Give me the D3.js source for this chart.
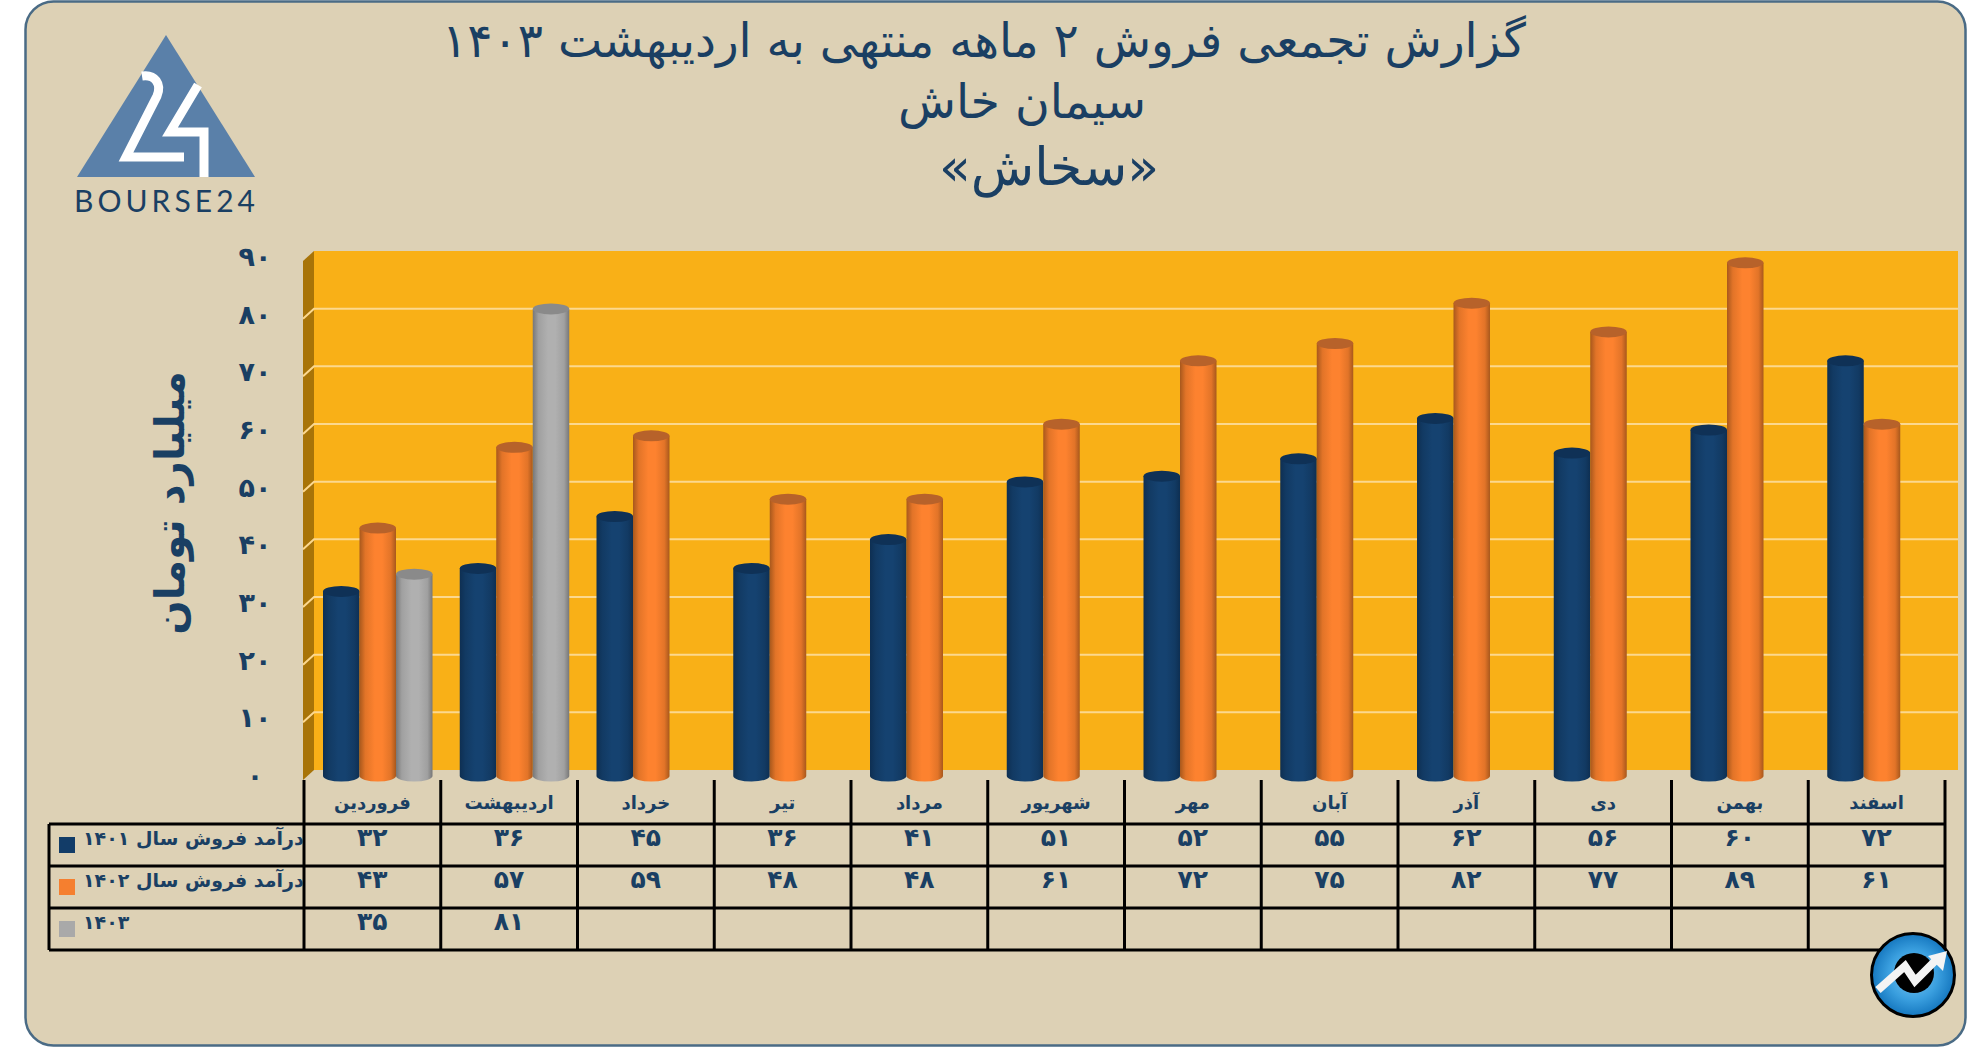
<!DOCTYPE html>
<html lang="fa"><head><meta charset="utf-8">
<script src="https://cdn.jsdelivr.net/npm/d3@7"></script>
<style>html,body{margin:0;padding:0;background:#fff}svg{display:block}</style></head>
<body><svg id="c" width="1986" height="1047"></svg>
<script>
const months=["فروردین","اردیبهشت","خرداد","تیر","مرداد","شهریور","مهر","آبان","آذر","دی","بهمن","اسفند"];
const seriesNames=["درآمد فروش سال ۱۴۰۱","درآمد فروش سال ۱۴۰۲","۱۴۰۳"];
const sales1401=[32,36,45,36,41,51,52,55,62,56,60,72];
const sales1402=[43,57,59,48,48,61,72,75,82,77,89,61];
const sales1403=[35,81,null,null,null,null,null,null,null,null,null,null];
const yTicks=[0,10,20,30,40,50,60,70,80,90];
const titleLines=["گزارش تجمعی فروش ۲ ماهه منتهی به اردیبهشت ۱۴۰۳","سیمان خاش","«سخاش»"];
const yTitle="میلیارد تومان";
const seriesValues=[sales1401,sales1402,sales1403];
const swatch=["#123c68","#f57f2f","#a9a9a9"];
const palette=[
 {edge:"#0e2f52",soft:"#123a63",mid:"#154270",top:"#0f3156"},
 {edge:"#a8581c",soft:"#e27428",mid:"#fd822f",top:"#b7622a"},
 {edge:"#777777",soft:"#a0a0a0",mid:"#b0b0b0",top:"#8a8a8a"}];
const ink="#1a3f63", FONT="'DejaVu Sans'";
const fa=n=>String(n).replace(/\d/g,d=>"۰۱۲۳۴۵۶۷۸۹"[d]);

const svg=d3.select("#c");
const defs=svg.append("defs");
palette.forEach((p,i)=>{
  const g=defs.append("linearGradient").attr("id","cyl"+i);
  [[0,p.edge],[.16,p.soft],[.42,p.mid],[.62,p.mid],[.86,p.soft],[1,p.edge]].forEach(s=>g.append("stop").attr("offset",s[0]).attr("stop-color",s[1]));
});
const rg=defs.append("radialGradient").attr("id","ball");
[[0,"#7cc8f2"],[.6,"#3a9fdf"],[1,"#1577bf"]].forEach(s=>rg.append("stop").attr("offset",s[0]).attr("stop-color",s[1]));

// panel
svg.append("rect").attr("x",25.5).attr("y",1.5).attr("width",1940).attr("height",1044).attr("rx",28)
  .attr("fill","#ddd1b5").attr("stroke","#4a6b85").attr("stroke-width",2.5);

const colX=d3.scaleBand().domain(months).range([304,1945]);
const barX=d3.scaleBand().domain([0,1,2]).range([19,128.5]);
const y=d3.scaleLinear().domain([0,90]).range([770,251]);
const wallL=314,wallR=1958,sideL=303,dz=10,dy=6;

// walls
svg.append("rect").attr("x",wallL).attr("y",y(90)).attr("width",wallR-wallL).attr("height",y(0)-y(90)).attr("fill","#f9b017");
svg.append("path").attr("d",`M${sideL},${y(90)+dz} L${wallL},${y(90)} V${y(0)} L${sideL},${y(0)+dz}Z`).attr("fill","#a87408");
svg.append("g").selectAll("path").data(yTicks.filter(t=>t>0&&t<90)).join("path")
  .attr("d",t=>`M${sideL},${y(t)+dz} L${wallL},${y(t)} H${wallR}`)
  .attr("fill","none").attr("stroke","#fcd88f").attr("stroke-width",2);

// y axis
const ax=svg.append("g").attr("transform",`translate(255,${dy})`)
  .call(d3.axisLeft(y).tickValues(yTicks).tickSize(0).tickPadding(0).tickFormat(fa));
ax.select(".domain").remove();
ax.selectAll("text").attr("text-anchor","middle").attr("x",0).attr("fill",ink)
  .style("font",`bold 27px ${FONT}`);

// cylinders
const ry=5.5;
seriesValues.forEach((vals,s)=>{
  const g=svg.append("g");
  const pts=vals.map((v,i)=>({v,m:months[i]})).filter(d=>d.v!=null);
  const w=barX.bandwidth();
  g.selectAll("path").data(pts).join("path")
    .attr("d",d=>{const x=colX(d.m)+barX(s),t=y(d.v)+dy,b=y(0)+dy;
      return `M${x},${t} V${b} A${w/2},${ry} 0 0 0 ${x+w},${b} V${t} Z`;})
    .attr("fill",`url(#cyl${s})`);
  g.selectAll("ellipse").data(pts).join("ellipse")
    .attr("cx",d=>colX(d.m)+barX(s)+w/2).attr("cy",d=>y(d.v)+dy).attr("rx",w/2).attr("ry",ry)
    .attr("fill",palette[s].top);
});

// table
const rowY=d3.scalePoint().domain([0,1,2,3]).range([824,950]);
const tbl=svg.append("g").attr("stroke","#000").attr("stroke-width",3);
rowY.domain().forEach(r=>tbl.append("line").attr("x1",49).attr("x2",1945).attr("y1",rowY(r)).attr("y2",rowY(r)));
tbl.append("line").attr("x1",49).attr("x2",49).attr("y1",824).attr("y2",950);
tbl.selectAll("line.v").data(months.map(m=>colX(m)).concat(1945)).join("line").attr("class","v")
  .attr("x1",d=>d).attr("x2",d=>d).attr("y1",780).attr("y2",950);

const tx=svg.append("g").attr("fill",ink).attr("text-anchor","middle").style("font",`bold 18px ${FONT}`);
tx.selectAll("text.m").data(months).join("text").attr("class","m")
  .attr("x",m=>colX(m)+colX.bandwidth()/2).attr("y",804).attr("dominant-baseline","middle").text(m=>m);
seriesValues.forEach((vals,s)=>{
  tx.append("g").selectAll("text").data(vals.map((v,i)=>({v,m:months[i]})).filter(d=>d.v!=null)).join("text")
    .attr("x",d=>colX(d.m)+colX.bandwidth()/2).attr("y",rowY(s)+15).attr("dominant-baseline","middle")
    .style("font",`bold 25px ${FONT}`).text(d=>fa(d.v));
  svg.append("rect").attr("x",59).attr("y",rowY(s)+13).attr("width",16).attr("height",16).attr("fill",swatch[s]);
  svg.append("text").attr("x",83).attr("y",rowY(s)+15).attr("dominant-baseline","middle").attr("text-anchor","end")
    .attr("fill",ink).style("font",`bold 19px ${FONT}`).style("direction","rtl")
    .text(seriesNames[s]);
});

// titles
const ts=[[44,47,984],[105,47.5,1022],[171,52,1049]];
svg.append("g").attr("fill",ink).attr("text-anchor","middle").selectAll("text").data(titleLines).join("text")
  .attr("x",(d,i)=>ts[i][2]).attr("y",(d,i)=>ts[i][0]).attr("dominant-baseline","middle")
  .style("font",(d,i)=>`${ts[i][1]}px ${FONT}`).text(d=>d);

svg.append("text").attr("transform","translate(173,503) rotate(-90)").attr("text-anchor","middle").attr("dominant-baseline","middle")
  .attr("fill",ink).style("font",`bold 40.5px ${FONT}`).text(yTitle);

// logo
const logo=svg.append("g");
logo.append("path").attr("d","M166,35 L77,177 H255Z").attr("fill","#5a80a9");
logo.append("path").attr("d","M142,76 C155,74 162,84 157,96 L126,157 H184").attr("fill","none").attr("stroke","#fff").attr("stroke-width",9);
logo.append("path").attr("d","M198,85 L170,132 H204 V177").attr("fill","none").attr("stroke","#fff").attr("stroke-width",9);
logo.append("text").attr("x",74).attr("y",212).attr("textLength",181).attr("lengthAdjust","spacing")
  .attr("fill",ink).style("font","30px Lato").text("BOURSE24");

// corner badge
const b=svg.append("g");
b.append("circle").attr("cx",1913).attr("cy",975).attr("r",41.5).attr("fill","url(#ball)").attr("stroke","#000").attr("stroke-width",3);
b.append("circle").attr("cx",1914).attr("cy",973).attr("r",20).attr("fill","#000");
b.append("path").attr("d","M1878,990 L1905,966 L1915,981 L1938,958").attr("fill","none").attr("stroke","#f4f4f4").attr("stroke-width",8);
b.append("path").attr("d","M1947,951 L1928,956 L1943,971Z").attr("fill","#f4f4f4");
</script></body></html>
